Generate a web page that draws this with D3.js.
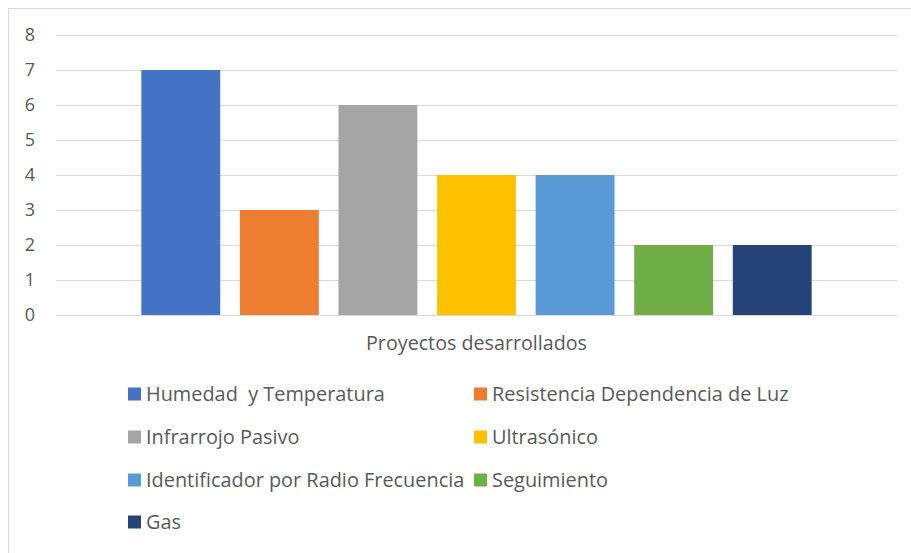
<!DOCTYPE html>
<html>
<head>
<meta charset="utf-8">
<script src="https://cdn.jsdelivr.net/npm/d3@7"></script>
<style>
  body { margin: 0; background: #fff; }
  svg text { font-family: "Open Sans", sans-serif; fill: #595959; }
</style>
</head>
<body>
<svg id="chart" width="911" height="553"></svg>
<script>
// Number of projects developed per sensor type
const category = "Proyectos desarrollados";
const series = [
  "Humedad  y Temperatura",
  "Resistencia Dependencia de Luz",
  "Infrarrojo Pasivo",
  "Ultrasónico",
  "Identificador por Radio Frecuencia",
  "Seguimiento",
  "Gas"
];
const values = [7, 3, 6, 4, 4, 2, 2];
const colors = ["#4472C4", "#ED7D31", "#A5A5A5", "#FFC000", "#5B9BD5", "#70AD47", "#264478"];
const yTicks = [0, 1, 2, 3, 4, 5, 6, 7, 8];

const FONT = "'Open Sans', sans-serif";
const svg = d3.select("#chart");

// chart area frame
svg.append("rect")
  .attr("x", 8.5).attr("y", 8.5)
  .attr("width", 920).attr("height", 560)
  .attr("fill", "none").attr("stroke", "#d9d9d9");

const plot = { left: 56, right: 897, top: 35, bottom: 315 };

const y = d3.scaleLinear().domain([0, 8]).range([plot.bottom, plot.top]);

const x0 = d3.scaleBand().domain([category])
  .range([plot.left, plot.right]).paddingOuter(0.1094);
const x1 = d3.scaleBand().domain(series)
  .range([0, x0.bandwidth()]).paddingInner(0.2).paddingOuter(0.1);

// gridlines
svg.append("g")
  .selectAll("line").data(yTicks).join("line")
  .attr("x1", plot.left).attr("x2", plot.right)
  .attr("y1", d => Math.round(y(d)) + 0.5).attr("y2", d => Math.round(y(d)) + 0.5)
  .attr("stroke", "#d9d9d9").attr("stroke-width", 1);

// y axis labels
const yAxis = d3.axisLeft(y).tickValues(yTicks).tickSize(0).tickPadding(0);
svg.append("g")
  .attr("transform", `translate(35,0)`)
  .call(yAxis)
  .call(g => g.select(".domain").remove())
  .call(g => g.selectAll("text")
    .attr("font-family", FONT)
    .attr("font-size", 18)
    .attr("fill", "#666666"));

// bars
svg.append("g")
  .selectAll("rect").data(series).join("rect")
  .attr("x", d => x0(category) + x1(d))
  .attr("width", x1.bandwidth())
  .attr("y", (d, i) => y(values[i]))
  .attr("height", (d, i) => y(0) - y(values[i]))
  .attr("fill", (d, i) => colors[i]);

// category label
const xAxis = d3.axisBottom(x0).tickSize(0).tickPadding(0);
svg.append("g")
  .attr("transform", `translate(0,${plot.bottom + 21})`)
  .call(xAxis)
  .call(g => g.select(".domain").remove())
  .call(g => g.selectAll("text")
    .attr("dy", "0.71em")
    .attr("font-family", FONT)
    .attr("font-size", 19.7)
    .attr("fill", "#595959"));

// legend in two columns
const legendCols = [128, 474];
const legendRows = [394, 437, 480, 522];
const legend = svg.append("g")
  .selectAll("g").data(series).join("g")
  .attr("transform", (d, i) => `translate(${legendCols[i % 2]},${legendRows[Math.floor(i / 2)]})`);
legend.append("rect")
  .attr("x", 0).attr("y", -6.5).attr("width", 13).attr("height", 13)
  .attr("fill", (d, i) => colors[i]);
legend.append("text")
  .attr("x", 18).attr("y", 0).attr("dy", "0.36em")
  .attr("font-family", FONT)
  .attr("font-size", 19.9)
  .style("white-space", "pre")
  .attr("xml:space", "preserve")
  .text(d => d);
</script>
</body>
</html>
